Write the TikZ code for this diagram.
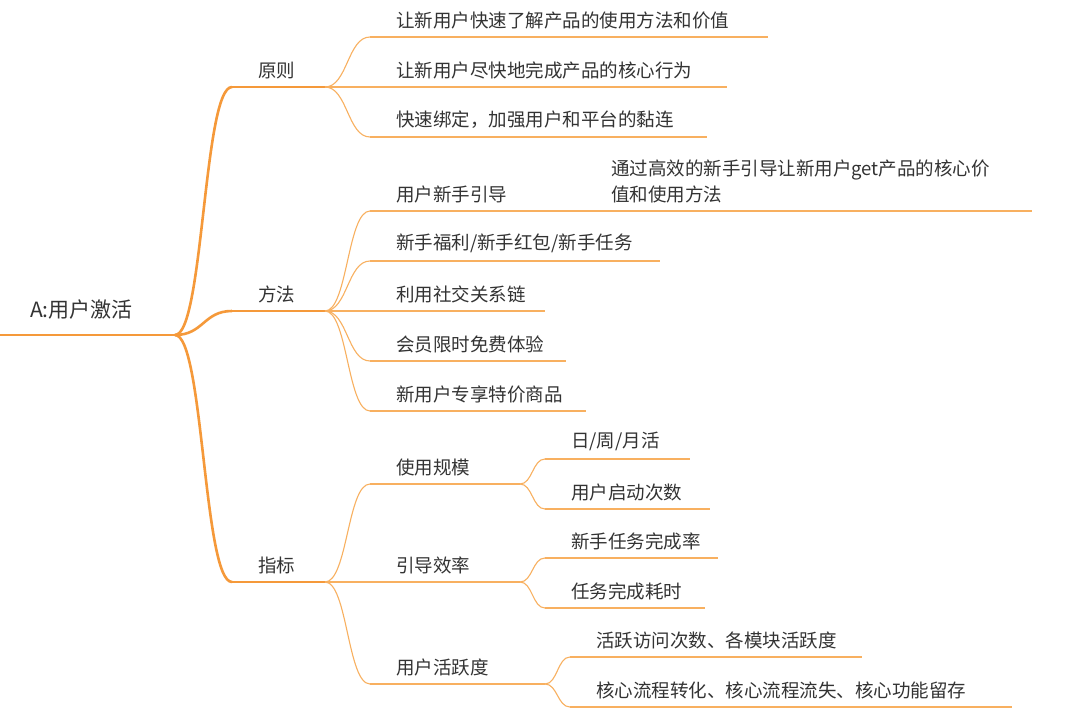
\documentclass[tikz,border=0pt]{standalone}
\usepackage{fontspec}
\setmainfont{Noto Sans CJK SC}
\usetikzlibrary{calc}
\definecolor{org}{HTML}{F5993A}
\definecolor{org2}{HTML}{F8B060}
\definecolor{txt}{HTML}{333333}
\tikzset{
  lbl/.style={anchor=south west,inner sep=0pt,text=txt,font=\fontsize{18.5}{26}\selectfont},
  thin/.style={draw=org2,line width=1.1pt},
  thick/.style={draw=org,line width=2.6pt},
}
% #1 name, #2 x0, #3 x1, #4 y, #5 text, #6 style
\newcommand\itm[6]{%
  \coordinate (#1a) at (#2,#4);
  \coordinate (#1b) at (#3,#4);
  \draw[#6] (#1a) -- (#1b);
  \node[lbl] (#1t) at ($(#1a)+(26,-8)$) {#5};
}
\newcommand\cnx[3]{%
  \draw[#3] let \p1=(#1), \p2=(#2) in
   (#1) .. controls ({(\x1+\x2)/2},\y1) and ({(\x1+\x2)/2},\y2) .. (#2);
}
\begin{document}
\begin{tikzpicture}[x=1pt,y=-1pt]
\useasboundingbox (0,0) rectangle (1080,714);
\fill[white] (0,0) rectangle (1080,714);
% root
\coordinate (ra) at (0,335);
\coordinate (rb) at (175,335);
\draw[thick] (ra) -- (rb);
\node[lbl,font=\fontsize{21}{26}\selectfont] (rt) at (30,320) {A:用户激活};
% level 1
\itm{p}{232}{325}{87}{原则}{thin}
\itm{m}{232}{325}{311}{方法}{thin}
\itm{k}{232}{325}{582}{指标}{thin}
\draw[thick] (pa) -- (pb);
\draw[thick] (ma) -- (mb);
\draw[thick] (ka) -- (kb);
\cnx{rb}{pa}{thick}
\cnx{rb}{ma}{thick}
\cnx{rb}{ka}{thick}
% principle
\itm{p1}{370}{768}{37}{让新用户快速了解产品的使用方法和价值}{thin}
\itm{p2}{370}{727}{87}{让新用户尽快地完成产品的核心行为}{thin}
\itm{p3}{370}{707}{137}{快速绑定，加强用户和平台的黏连}{thin}
\cnx{pb}{p1a}{thin}
\cnx{pb}{p2a}{thin}
\cnx{pb}{p3a}{thin}
% methods
\itm{m1}{370}{565}{211}{用户新手引导}{thin}
\itm{m2}{370}{660}{261}{新手福利/新手红包/新手任务}{thin}
\itm{m3}{370}{545}{311}{利用社交关系链}{thin}
\itm{m4}{370}{566}{361}{会员限时免费体验}{thin}
\itm{m5}{370}{586}{411}{新用户专享特价商品}{thin}
\foreach \i in {1,...,5}{\cnx{mb}{m\i a}{thin}}
\coordinate (m1ca) at (585,211);
\coordinate (m1cb) at (1032,211);
\draw[thin] (m1ca) -- (m1cb);
\node[lbl,align=left] (m1ct) at ($(m1ca)+(26,-8)$) {通过高效的新手引导让新用户get产品的核心价\\值和使用方法};
\cnx{m1b}{m1ca}{thin}
% indicators
\itm{k1}{370}{520}{484}{使用规模}{thin}
\itm{k2}{370}{520}{582}{引导效率}{thin}
\itm{k3}{370}{545}{684}{用户活跃度}{thin}
\foreach \i in {1,2,3}{\cnx{kb}{k\i a}{thin}}
\itm{k11}{545}{690}{459}{日/周/月活}{thin}
\itm{k12}{545}{710}{509}{用户启动次数}{thin}
\cnx{k1b}{k11a}{thin}
\cnx{k1b}{k12a}{thin}
\itm{k21}{545}{718}{558}{新手任务完成率}{thin}
\itm{k22}{545}{705}{608}{任务完成耗时}{thin}
\cnx{k2b}{k21a}{thin}
\cnx{k2b}{k22a}{thin}
\itm{k31}{570}{862}{657}{活跃访问次数、各模块活跃度}{thin}
\itm{k32}{570}{1012}{707}{核心流程转化、核心流程流失、核心功能留存}{thin}
\cnx{k3b}{k31a}{thin}
\cnx{k3b}{k32a}{thin}
\end{tikzpicture}
\end{document}
